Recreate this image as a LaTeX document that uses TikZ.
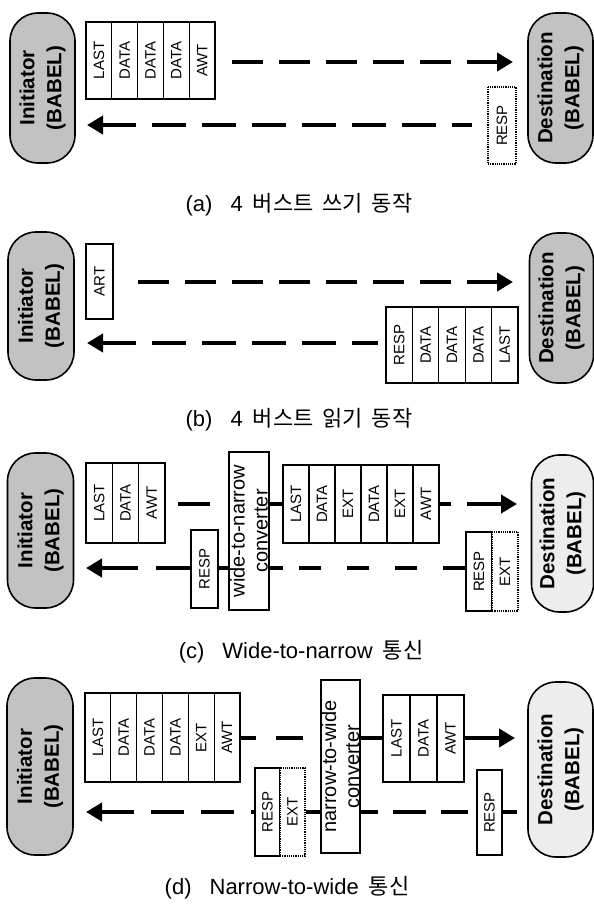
\documentclass[tikz,border=0pt]{standalone}
\usepackage{fontspec}
\setmainfont{Liberation Sans}
\newfontfamily\kr{Noto Sans CJK KR}
\usetikzlibrary{arrows.meta}
\begin{document}
\begin{tikzpicture}[x=1pt,y=-1pt,
  pill/.style={draw, line width=1.6pt, rounded corners=28pt, rotate=90, align=center, inner sep=0pt, font=\bfseries\fontsize{20.5}{27}\selectfont},
  ini/.style={pill, fill=black!24},
  dstg/.style={pill, fill=black!24},
  dstw/.style={pill, fill=black!7},
  cell/.style={draw, line width=1.3pt, fill=white, rotate=90, inner sep=0pt, font=\fontsize{15}{17}\selectfont},
  dcell/.style={cell, line width=1.2pt, densely dotted},
  conv/.style={draw, line width=1.5pt, fill=white, rotate=90, align=center, inner sep=0pt, font=\fontsize{20}{23}\selectfont},
  dl/.style={line width=4.5pt},
  arrhead/.style={{Triangle[length=16pt,width=18pt]}-},
  capt/.style={font=\fontsize{22}{26}\selectfont, inner sep=0pt}
]
\useasboundingbox (0,0) rectangle (594,910);

% ---------------- (a)
\node[ini, minimum width=150pt, minimum height=65pt] (iniA) at (42.5,88) {Initiator\\(BABEL)};
\node[dstg, minimum width=150pt, minimum height=65pt] (dstA) at (560.5,88) {Destination\\(BABEL)};
\foreach \t [count=\i] in {LAST,DATA,DATA,DATA,AWT}
  \node[cell, minimum width=77pt, minimum height=25.8pt] (ap\i) at ({86+25.8*(\i-0.5)},60.5) {\t};
\node[dcell, minimum width=77pt, minimum height=28pt] (aR) at (502,125.5) {RESP};
\coordinate (aTe) at (513,62);
\coordinate (aTs) at (228,62);
\draw[dl, arrhead, dash pattern=on 31pt off 16pt] (aTe) -- (aTs);
\coordinate (aBe) at (87,125);
\coordinate (aBs) at (472,125);
\draw[dl, arrhead, dash pattern=on 34pt off 16pt] (aBe) -- (aBs);
\node[capt] (capA) at (299,205) {(a)\hspace{18pt}4\hspace{10pt}{\kr 버스트\hspace{4pt} 쓰기\hspace{4pt} 동작}};

% ---------------- (b)
\node[ini, minimum width=148pt, minimum height=66pt] (iniB) at (41,306) {Initiator\\(BABEL)};
\node[dstg, minimum width=150pt, minimum height=64pt] (dstB) at (561.5,308) {Destination\\(BABEL)};
\node[cell, minimum width=75pt, minimum height=27pt] (bA) at (99.5,281.5) {ART};
\foreach \t [count=\i] in {RESP,DATA,DATA,DATA,LAST}
  \node[cell, minimum width=76pt, minimum height=26.4pt] (bp\i) at ({386+26.4*(\i-0.5)},345) {\t};
\coordinate (bTe) at (513,282);
\coordinate (bTs) at (133,282);
\draw[dl, arrhead, dash pattern=on 31pt off 16pt] (bTe) -- (bTs);
\coordinate (bBe) at (87,343);
\coordinate (bBs) at (378,343);
\draw[dl, arrhead, dash pattern=on 34pt off 16pt] (bBe) -- (bBs);
\node[capt] (capB) at (299,420) {(b)\hspace{18pt}4\hspace{10pt}{\kr 버스트\hspace{4pt} 읽기\hspace{4pt} 동작}};

% ---------------- (c)
\node[ini, minimum width=155pt, minimum height=66pt] (iniC) at (40.5,530.5) {Initiator\\(BABEL)};
\node[dstw, minimum width=157pt, minimum height=62pt] (dstC) at (562.5,533.5) {Destination\\(BABEL)};
\foreach \t [count=\i] in {LAST,DATA,AWT}
  \node[cell, minimum width=80pt, minimum height=26.33pt] (cp\i) at ({86+26.33*(\i-0.5)},503) {\t};
\node[conv, minimum width=158pt, minimum height=40pt] (convC) at (249,531) {wide-to-narrow\\converter};
\foreach \t [count=\i] in {LAST,DATA,EXT,DATA,EXT,AWT}
  \node[cell, minimum width=78pt, minimum height=26pt] (cq\i) at ({283+26*(\i-0.5)},504) {\t};
\node[cell, minimum width=78pt, minimum height=27pt] (cR1) at (204.5,569) {RESP};
\node[cell, minimum width=79pt, minimum height=26pt] (cR2) at (479,571.5) {RESP};
\node[dcell, minimum width=79pt, minimum height=26pt] (cE2) at (505,571.5) {EXT};
\coordinate (cTs) at (178,504);
\draw[dl, dash pattern=on 32pt off 30pt] (cTs) -- (convC.north |- cTs);
\draw[dl] (convC.south |- cTs) -- (cq1.north |- cTs);
\coordinate (cTe) at (517,504);
\draw[dl, arrhead, dash pattern=on 35pt off 16pt] (cTe) -- (cq6.south |- cTe);
\coordinate (cBe) at (86,568);
\draw[dl, arrhead, dash pattern=on 37pt off 18pt] (cBe) -- (cR1.north |- cBe);
\draw[dl] (cR1.south |- cBe) -- (convC.north |- cBe);
\coordinate (cBm) at (283,568);
\draw[dl] (convC.south |- cBe) -- (cBm);
\coordinate (cBd) at (298,568);
\draw[dl, dash pattern=on 22pt off 26pt] (cR2.north |- cBe) -- (cBd);
\node[capt] (capC) at (301,652) {(c)\hspace{18pt}Wide-to-narrow\hspace{10pt}{\kr 통신}};

% ---------------- (d)
\node[ini, minimum width=177pt, minimum height=66pt] (iniD) at (40,766.5) {Initiator\\(BABEL)};
\node[dstw, minimum width=175pt, minimum height=65pt] (dstD) at (560.5,769.5) {Destination\\(BABEL)};
\foreach \t [count=\i] in {LAST,DATA,DATA,DATA,EXT,AWT}
  \node[cell, minimum width=89pt, minimum height=25.83pt] (dp\i) at ({85+25.83*(\i-0.5)},737.5) {\t};
\node[conv, minimum width=173pt, minimum height=39pt] (convD) at (340.5,766.5) {narrow-to-wide\\converter};
\foreach \t [count=\i] in {LAST,DATA,AWT}
  \node[cell, minimum width=87pt, minimum height=27pt] (dq\i) at ({383+27*(\i-0.5)},738.5) {\t};
\node[cell, minimum width=88pt, minimum height=25pt] (dR1) at (267.5,812) {RESP};
\node[dcell, minimum width=88pt, minimum height=25pt] (dE1) at (292.5,812) {EXT};
\node[cell, minimum width=85pt, minimum height=25pt] (dR2) at (489.5,812.5) {RESP};
\coordinate (dT) at (240,738);
\draw[dl, dash pattern=on 15pt off 20pt on 27pt off 40pt] (dp6.south |- dT) -- (convD.north |- dT);
\draw[dl] (convD.south |- dT) -- (dq1.north |- dT);
\coordinate (dTe) at (515,738);
\draw[dl, arrhead] (dTe) -- (dq3.south |- dTe);
\coordinate (dBe) at (86,812);
\draw[dl, arrhead, dash pattern=on 33pt off 17pt] (dBe) -- (dR1.north |- dBe);
\draw[dl] (dE1.south |- dBe) -- (convD.north |- dBe);
\draw[dl, dash pattern=on 17pt off 15pt on 33pt off 15pt on 27pt off 60pt] (convD.south |- dBe) -- (dR2.north |- dBe);
\coordinate (dBs) at (517,812);
\draw[dl] (dR2.south |- dBe) -- (dBs);
\node[capt] (capD) at (287,888) {(d)\hspace{18pt}Narrow-to-wide\hspace{10pt}{\kr 통신}};
\end{tikzpicture}
\end{document}
